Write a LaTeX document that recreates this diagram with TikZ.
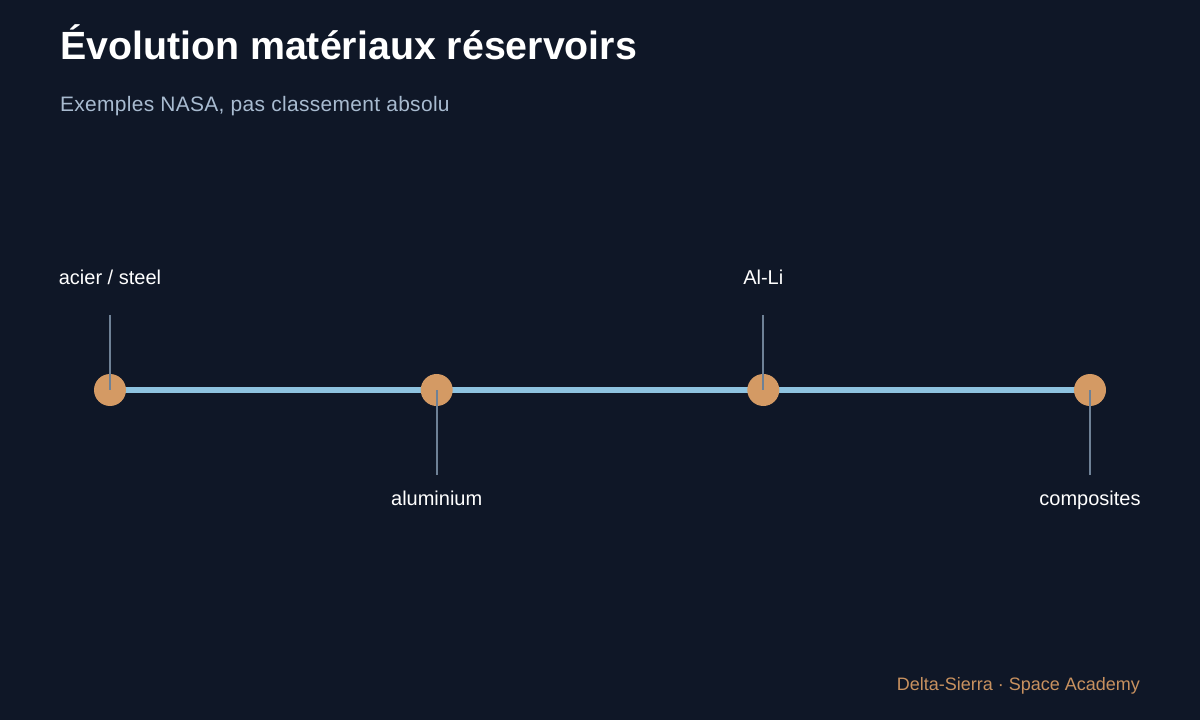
\documentclass[tikz,border=0pt]{standalone}
\usepackage{fontspec}
\setmainfont{Liberation Sans}
\newfontfamily\subfont[LetterSpace=1.6]{Liberation Sans}
\definecolor{bgc}{HTML}{0F1727}
\definecolor{linec}{HTML}{8EC3E0}
\definecolor{dotc}{HTML}{D49A64}
\definecolor{stemc}{HTML}{6E8196}
\definecolor{subc}{HTML}{A8BBD0}
\definecolor{footc}{HTML}{C8915F}
\begin{document}
\begin{tikzpicture}[x=0.75pt,y=-0.75pt,
  txt/.style={inner sep=0pt,outer sep=0pt},
  dot/.style={circle,fill=dotc,minimum size=24pt,inner sep=0pt},
  stem/.style={draw=stemc,line width=1.5pt},
  lab/.style={txt,anchor=base,text=white,font=\fontsize{15}{18}\selectfont}]
\fill[bgc] (0,0) rectangle (1200,720);
\useasboundingbox (0,0) rectangle (1200,720);
\node[txt,anchor=base west,text=white,font=\fontsize{29.5}{34}\selectfont\bfseries] (title) at (60,60) {Évolution matériaux réservoirs};
\node[txt,anchor=base west,text=subc,font=\subfont\fontsize{15.7}{18}\selectfont] (sub) at (60,112) {Exemples NASA, pas classement absolu};
\coordinate (p1) at (110,390);
\coordinate (p2) at (436.7,390);
\coordinate (p3) at (763.3,390);
\coordinate (p4) at (1090,390);
\draw[linec,line width=4.5pt] (p1) -- (p4);
\foreach \i in {1,...,4} \node[dot] (d\i) at (p\i) {};
\coordinate (t1) at (110,315);
\coordinate (t3) at (763.3,315);
\coordinate (b2) at (436.7,475);
\coordinate (b4) at (1090,475);
\draw[stem] (t1) -- (d1.center);
\draw[stem] (t3) -- (d3.center);
\draw[stem] (b2) -- (d2.center);
\draw[stem] (b4) -- (d4.center);
\node[lab] (l1) at (110,285) {acier / steel};
\node[lab] (l3) at (763.3,285) {Al-Li};
\node[lab] (l2) at (436.7,505) {aluminium};
\node[lab] (l4) at (1090,505) {composites};
\node[txt,anchor=base east,text=footc,font=\fontsize{13.5}{16}\selectfont] (foot) at (1140,690) {Delta-Sierra · Space Academy};
\end{tikzpicture}
\end{document}
